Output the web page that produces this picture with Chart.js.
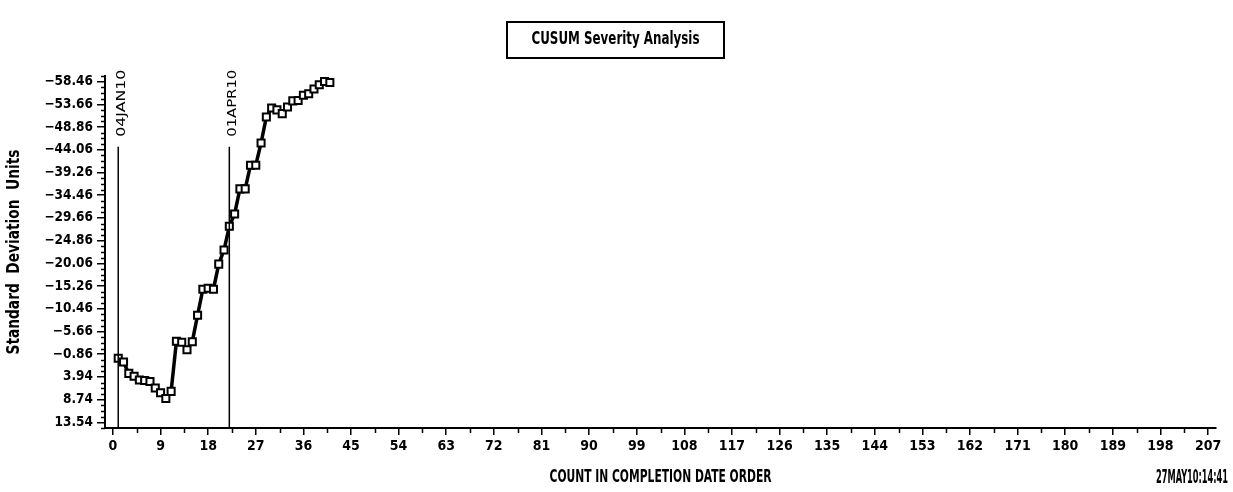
<!DOCTYPE html>
<html>
<head>
<meta charset="utf-8">
<script src="https://cdn.jsdelivr.net/npm/chart.js@4.4.1/dist/chart.umd.min.js"></script>
<style>
html,body{margin:0;padding:0;background:#fff;}
#wrap{width:1233px;height:492px;position:relative;}
</style>
</head>
<body>
<div id="wrap"><canvas id="c"></canvas></div>
<script>
// ---- data ----
const counts = [1,2,3,4,5,6,7,8,9,10,11,12,13,14,15,16,17,18,19,20,21,22,23,24,25,26,27,28,29,30,31,32,33,34,35,36,37,38,39,40,41];
const cusum  = [0.0,0.8,3.2,3.8,4.6,4.7,4.9,6.3,7.3,8.5,7.0,-3.6,-3.4,-1.8,-3.5,-9.1,-14.6,-14.8,-14.6,-19.9,-22.9,-27.9,-30.5,-35.8,-35.8,-40.8,-40.8,-45.5,-51.0,-52.9,-52.5,-51.7,-53.1,-54.4,-54.5,-55.6,-55.9,-56.9,-57.8,-58.5,-58.3];
const xTicks = [0,9,18,27,36,45,54,63,72,81,90,99,108,117,126,135,144,153,162,171,180,189,198,207];
const yTicks = [-58.46,-53.66,-48.86,-44.06,-39.26,-34.46,-29.66,-24.86,-20.06,-15.26,-10.46,-5.66,-0.86,3.94,8.74,13.54];
const refCounts = [1,22];
const refLabels = ['04JAN10','01APR10'];
const refLineTop = -44.7;
const titleText = 'CUSUM Severity Analysis';
const xTitle = 'COUNT IN COMPLETION DATE ORDER';
const yTitle = 'Standard  Deviation  Units';
const stamp = '27MAY10:14:41';

const FONT = "'Liberation Sans Narrow','DejaVu Sans Condensed','Liberation Sans',sans-serif";

function fitText(ctx, txt, x, y, targetW, align){
  const w = ctx.measureText(txt).width;
  const s = targetW / w;
  ctx.save();
  ctx.translate(x, y);
  ctx.scale(s, 1);
  ctx.textAlign = align || 'center';
  ctx.fillText(txt, 0, 0);
  ctx.restore();
}

const decor = {
  id: 'decor',
  afterDraw(chart){
    const ctx = chart.ctx;
    const xs = chart.scales.x, ys = chart.scales.y;
    ctx.save();
    ctx.strokeStyle = '#000';
    ctx.fillStyle = '#000';
    ctx.lineWidth = 1.5;
    const bottom = chart.chartArea.bottom, left = chart.chartArea.left;
    // minor ticks x
    for (let i = 0; i < xTicks.length - 1; i++) {
      const v = (xTicks[i] + xTicks[i+1]) / 2;
      const px = Math.round(xs.getPixelForValue(v)) + 0.5;
      ctx.beginPath(); ctx.moveTo(px, bottom); ctx.lineTo(px, bottom + 5); ctx.stroke();
    }
    // minor ticks y (3 between majors, plus one beyond each end)
    const ySub = [];
    for (let i = 0; i < yTicks.length - 1; i++) {
      const step = (yTicks[i+1] - yTicks[i]) / 4;
      for (let k = 1; k < 4; k++) ySub.push(yTicks[i] + k * step);
    }
    ySub.push(yTicks[0] - (yTicks[1]-yTicks[0])/4);
    ySub.push(yTicks[yTicks.length-1] + (yTicks[1]-yTicks[0])/4);
    ySub.forEach(v => {
      const py = Math.round(ys.getPixelForValue(v)) + 0.5;
      if (py < chart.chartArea.top - 1 || py > bottom + 1) return;
      ctx.beginPath(); ctx.moveTo(left, py); ctx.lineTo(left - 4, py); ctx.stroke();
    });
    // reference lines
    ctx.lineWidth = 1.5;
    refCounts.forEach((c, i) => {
      const px = xs.getPixelForValue(c);
      const top = ys.getPixelForValue(refLineTop);
      ctx.beginPath(); ctx.moveTo(px, top); ctx.lineTo(px, bottom); ctx.stroke();
      ctx.save();
      ctx.translate(px + 7, top - 10);
      ctx.rotate(-Math.PI/2);
      ctx.font = "12px 'DejaVu Sans','Liberation Sans',sans-serif";
      ctx.textBaseline = 'alphabetic';
      fitText(ctx, refLabels[i], 0, 0, 67, 'left');
      ctx.restore();
    });
    // title box
    ctx.lineWidth = 2;
    ctx.strokeRect(507, 22, 217, 36);
    ctx.font = "bold 17px " + FONT;
    ctx.textBaseline = 'middle';
    fitText(ctx, titleText, 615.5, 40, 168, 'center');
    // axis titles
    ctx.font = "bold 17px " + FONT;
    fitText(ctx, xTitle, (chart.chartArea.left + chart.chartArea.right)/2, 478, 222, 'center');
    ctx.font = "bold 19px " + FONT;
    fitText(ctx, stamp, 1228, 478, 72, 'right');
    ctx.font = "bold 17px " + FONT;
    ctx.save();
    ctx.translate(15, (chart.chartArea.top + chart.chartArea.bottom)/2);
    ctx.rotate(-Math.PI/2);
    fitText(ctx, yTitle, 0, 0, 205, 'center');
    ctx.restore();
    ctx.restore();
  }
};

new Chart(document.getElementById('c'), {
  type: 'line',
  data: {
    datasets: [{
      data: counts.map((c, i) => ({x: c, y: cusum[i]})),
      borderColor: '#000',
      borderWidth: 3.5,
      tension: 0,
      pointStyle: 'rect',
      pointRadius: 5,
      pointBorderWidth: 2,
      pointBorderColor: '#000',
      pointBackgroundColor: '#fff'
    }]
  },
  options: {
    responsive: true,
    maintainAspectRatio: false,
    animation: false,
    layout: { padding: { left: 0, right: 17, top: 76, bottom: 0 } },
    plugins: { legend: { display: false }, title: { display: false }, tooltip: { enabled: false } },
    scales: {
      x: {
        type: 'linear',
        min: -1.5, max: 208.5,
        afterBuildTicks: s => { s.ticks = xTicks.map(v => ({value: v})); },
        afterFit: s => { s.height = 64; },
        grid: { drawOnChartArea: false, drawTicks: true, tickLength: 7, color: '#000', lineWidth: 1.5 },
        border: { display: true, color: '#000', width: 2 },
        ticks: { color: '#000', font: { family: FONT, size: 14, weight: 'bold' }, padding: 3, maxRotation: 0, autoSkip: false,
                 callback: v => String(v) }
      },
      y: {
        type: 'linear',
        reverse: true,
        min: -59.66, max: 14.74,
        afterBuildTicks: s => { s.ticks = yTicks.map(v => ({value: v})); },
        afterFit: s => { s.width = 105; },
        grid: { drawOnChartArea: false, drawTicks: true, tickLength: 8, color: '#000', lineWidth: 1.5 },
        border: { display: true, color: '#000', width: 2 },
        ticks: { color: '#000', font: { family: FONT, size: 13.5, weight: 'bold' }, padding: 4, autoSkip: false,
                 callback: v => v.toFixed(2).replace('-', '\u2212') }
      }
    }
  },
  plugins: [decor]
});
</script>
</body>
</html>
